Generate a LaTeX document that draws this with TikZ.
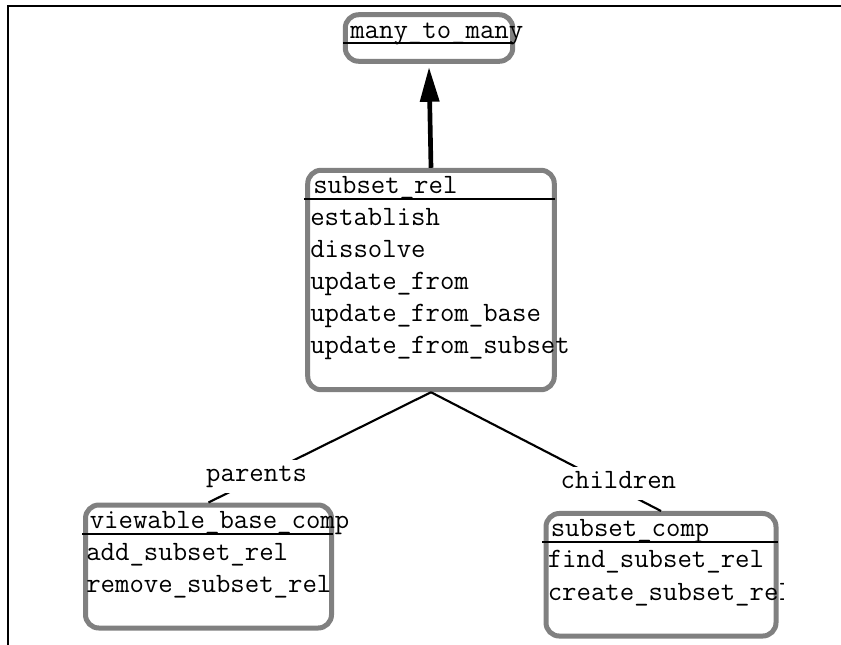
\documentclass[tikz,border=0pt]{standalone}
\usepackage{fontspec}
\usetikzlibrary{arrows.meta}
\definecolor{boxgray}{RGB}{128,128,128}
\newcommand\diagfont{\fontsize{21pt}{25pt}\selectfont\ttfamily}
\begin{document}
\begin{tikzpicture}[x=0.75pt,y=-0.75pt,
  umlbox/.style={draw=boxgray, line width=3.75pt, rounded corners=10pt, inner sep=0pt, fill=white},
  txt/.style={anchor=base west, inner sep=0pt, font=\diagfont},
  rule/.style={draw=black, line width=1.5pt},
  conn/.style={draw=black, line width=1.6pt},
  lbl/.style={fill=white, font=\diagfont, text height=12pt, text depth=4pt, inner xsep=2pt, inner ysep=4.5pt},
  gen/.style={draw=black, line width=3.5pt, -{Triangle[length=26pt,width=14pt]}}
]
\useasboundingbox (0,0) rectangle (841,644);
% frame
\draw[line width=1.5pt] (842,6) -- (8,6) -- (8,645);

% boxes
\node[umlbox, minimum width=125.6pt, minimum height=34.9pt] (mm) at (429,38) {};
\node[umlbox, minimum width=184.9pt, minimum height=164.6pt] (sr) at (431,280) {};
\node[umlbox, minimum width=184.5pt, minimum height=92.25pt] (vbc) at (208.5,566.5) {};
\node[umlbox, minimum width=172.5pt, minimum height=91.9pt] (sc) at (661,574.75) {};

% connectors
\draw[gen] (sr.north) -- ([yshift=-2.5pt]mm.south);
\draw[conn] (sr.south) -- node[lbl, pos=0.762, xshift=-3.6pt] (lp) {parents} (vbc.north);
\draw[conn] (sr.south) -- node[lbl, pos=0.769, xshift=7.9pt] (lc) {children} (sc.north);

% many_to_many
\node[txt] (mmh) at (350,38.3) {many\_to\_many};
\draw[rule] (343,43.3) -- (513,43.3);

% subset_rel
\node[txt] (srh) at (313,193.3) {subset\_rel};
\draw[rule] (304,199.3) -- (555,199.3);
\node[txt] (sr1) at (310,225) {establish};
\node[txt] (sr2) at (310,257) {dissolve};
\node[txt] (sr3) at (310,289) {update\_from};
\node[txt] (sr4) at (310,321) {update\_from\_base};
\node[txt] (sr5) at (310,353) {update\_from\_subset};

% viewable_base_comp
\node[txt] (vbch) at (89.5,528.3) {viewable\_base\_comp};
\draw[rule] (82,534) -- (333,534);
\node[txt] (vbc1) at (86,560) {add\_subset\_rel};
\node[txt] (vbc2) at (86,592.7) {remove\_subset\_rel};

% subset_comp
\node[txt] (sch) at (550.5,536.7) {subset\_comp};
\draw[rule] (542,542) -- (778,542);
\node[txt] (sc1) at (547.5,567.3) {find\_subset\_rel};
\begin{scope}
\clip (540,570) rectangle (783,640);
\node[txt] (sc2) at (547.5,600) {create\_subset\_rel};
\end{scope}
\end{tikzpicture}
\end{document}
